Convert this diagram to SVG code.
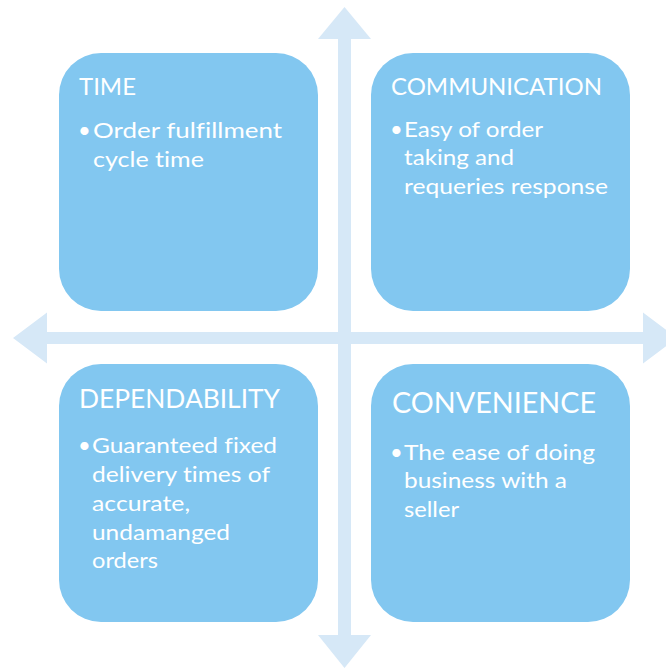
<svg xmlns="http://www.w3.org/2000/svg" width="666" height="668" viewBox="0 0 666 668">
  <style>
    .axis { fill: #D6E8F7; }
    .box { fill: #82C7F0; }
    .title { font-family: "Lato", "Liberation Sans", sans-serif; fill: #FFFFFF; font-variant-ligatures: none; }
    .body { font-family: "Lato", "Liberation Sans", sans-serif; font-size: 22px; fill: #FFFFFF; font-variant-ligatures: none; }
  </style>
  <rect width="666" height="668" fill="#FFFFFF"/>

  <!-- axes: two double-headed arrows crossing at the centre -->
  <g id="connectors">
    <path class="axis" d="M344.5,7 L371,39 L351,39 L351,635 L371,635 L344.5,668 L318,635 L338,635 L338,39 L318,39 Z"/>
    <path class="axis" d="M13,338 L47,312.5 L47,332 L643,332 L643,312.5 L677,338 L643,363.5 L643,344 L47,344 L47,363.5 Z"/>
  </g>

  <g id="time">
    <rect class="box" x="59" y="53" width="259" height="258" rx="42" ry="42"/>
    <text class="title" x="79" y="95" font-size="24" textLength="57" lengthAdjust="spacingAndGlyphs">TIME</text>
    <text class="body" x="78" y="138">•</text>
    <text class="body" x="93" y="138" textLength="189" lengthAdjust="spacingAndGlyphs">Order fulfillment</text>
    <text class="body" x="93" y="167" textLength="111" lengthAdjust="spacingAndGlyphs">cycle time</text>
  </g>

  <g id="communication">
    <rect class="box" x="371" y="53" width="259" height="258" rx="42" ry="42"/>
    <text class="title" x="391" y="95" font-size="24" textLength="211" lengthAdjust="spacingAndGlyphs">COMMUNICATION</text>
    <text class="body" x="390" y="137">•</text>
    <text class="body" x="404" y="137" textLength="139" lengthAdjust="spacingAndGlyphs">Easy of order</text>
    <text class="body" x="404" y="165" textLength="110" lengthAdjust="spacingAndGlyphs">taking and</text>
    <text class="body" x="404" y="194" textLength="204" lengthAdjust="spacingAndGlyphs">requeries response</text>
  </g>

  <g id="dependability">
    <rect class="box" x="59" y="364" width="259" height="258" rx="42" ry="42"/>
    <text class="title" x="79" y="408" font-size="26.5" textLength="201" lengthAdjust="spacingAndGlyphs">DEPENDABILITY</text>
    <text class="body" x="78" y="453">•</text>
    <text class="body" x="92" y="453" textLength="185" lengthAdjust="spacingAndGlyphs">Guaranteed fixed</text>
    <text class="body" x="92" y="482" textLength="178" lengthAdjust="spacingAndGlyphs">delivery times of</text>
    <text class="body" x="92" y="511" textLength="98" lengthAdjust="spacingAndGlyphs">accurate,</text>
    <text class="body" x="92" y="540" textLength="138" lengthAdjust="spacingAndGlyphs">undamanged</text>
    <text class="body" x="92" y="568" textLength="66" lengthAdjust="spacingAndGlyphs">orders</text>
  </g>

  <g id="convenience">
    <rect class="box" x="371" y="364" width="259" height="258" rx="42" ry="42"/>
    <text class="title" x="392" y="413" font-size="29" textLength="204" lengthAdjust="spacingAndGlyphs">CONVENIENCE</text>
    <text class="body" x="390" y="460">•</text>
    <text class="body" x="404" y="460" textLength="191" lengthAdjust="spacingAndGlyphs">The ease of doing</text>
    <text class="body" x="404" y="488" textLength="163" lengthAdjust="spacingAndGlyphs">business with a</text>
    <text class="body" x="404" y="517" textLength="55" lengthAdjust="spacingAndGlyphs">seller</text>
  </g>
</svg>
